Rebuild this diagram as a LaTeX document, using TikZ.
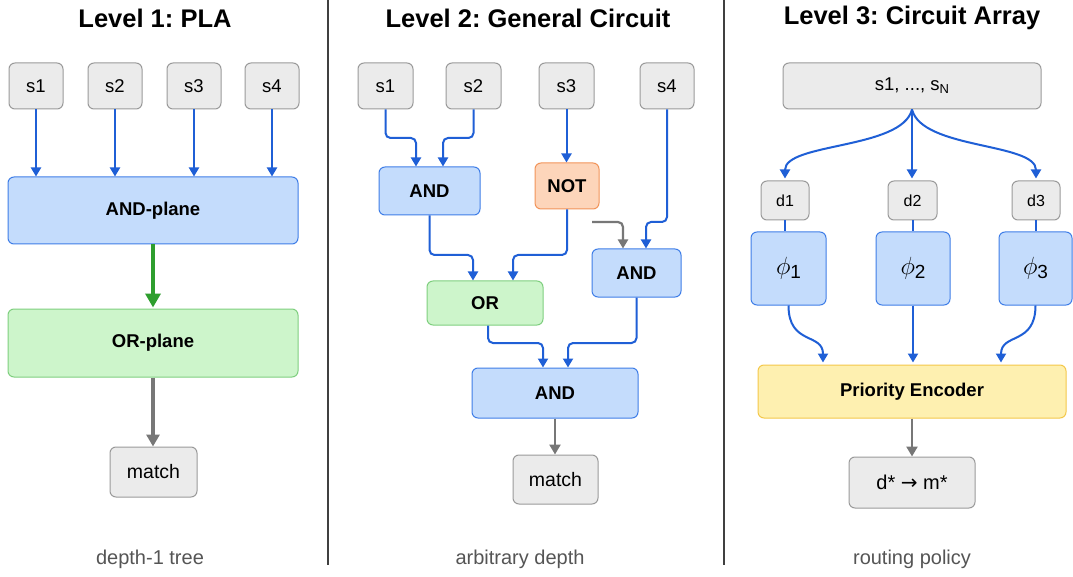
\documentclass[tikz,border=0pt]{standalone}
\usepackage{fontspec}
\setmainfont{Liberation Sans}
\newfontfamily\symfont{DejaVu Sans}
\usetikzlibrary{arrows.meta}
\frenchspacing
\definecolor{gfill}{HTML}{EBEBEB}
\definecolor{gdraw}{HTML}{9A9A9A}
\definecolor{bfill}{HTML}{C4DCFC}
\definecolor{bdraw}{HTML}{3F7EE8}
\definecolor{grfill}{HTML}{CDF5CB}
\definecolor{grdraw}{HTML}{7FCF7F}
\definecolor{ofill}{HTML}{FDD5BA}
\definecolor{odraw}{HTML}{F2945A}
\definecolor{yfill}{HTML}{FEF0B0}
\definecolor{ydraw}{HTML}{F4C84A}
\definecolor{barc}{HTML}{1F5FD6}
\definecolor{grarc}{HTML}{2E9E2E}
\definecolor{gyarc}{HTML}{777777}
\definecolor{captxt}{HTML}{555555}
\newcommand{\phisub}[1]{$\phi$\raisebox{-4pt}{\fontsize{19}{20}\selectfont #1}}
\tikzset{
  box/.style={rounded corners=6pt, line width=1pt, inner sep=0pt, align=center},
  gbox/.style={box, fill=gfill, draw=gdraw, font=\fontsize{18.5}{20}\selectfont},
  bbox/.style={box, fill=bfill, draw=bdraw, font=\bfseries\fontsize{18.5}{20}\selectfont},
  grbox/.style={box, fill=grfill, draw=grdraw, font=\bfseries\fontsize{18.5}{20}\selectfont},
  obox/.style={box, fill=ofill, draw=odraw, font=\bfseries\fontsize{18.5}{20}\selectfont},
  ybox/.style={box, fill=yfill, draw=ydraw, font=\bfseries\fontsize{18.5}{20}\selectfont},
  ttl/.style={font=\bfseries\fontsize{25.5}{28}\selectfont},
  captext/.style={text=captxt, font=\fontsize{20}{22}\selectfont},
  barrow/.style={draw=barc, line width=2pt, rounded corners=5pt, -{Triangle[length=9pt,width=10pt]}},
  bline/.style={draw=barc, line width=2pt},
  grarrow/.style={draw=grarc, line width=3.5pt, -{Triangle[length=14pt,width=15pt]}},
  gyarrow/.style={draw=gyarc, line width=3.2pt, -{Triangle[length=12pt,width=13pt]}},
  divider/.style={draw=black!75, line width=1.2pt}
}
\begin{document}
\begin{tikzpicture}[x=1pt,y=1pt]
\useasboundingbox[fill=white] (0,0) rectangle (1073,-577);
% dividers
\draw[divider] (328,0) -- (328,-565);
\draw[divider] (724,0) -- (724,-565);
% titles
\node[ttl] (t1) at (155,-18) {Level 1: PLA};
\node[ttl] (t2) at (528,-18) {Level 2: General Circuit};
\node[ttl] (t3) at (912,-18) {Level 3: Circuit Array};
% ---------- Panel 1 ----------
\node[gbox, minimum width=54pt, minimum height=46pt] (p1s1) at (36,-86) {s1};
\node[gbox, minimum width=54pt, minimum height=46pt] (p1s2) at (115,-86) {s2};
\node[gbox, minimum width=54pt, minimum height=46pt] (p1s3) at (194,-86) {s3};
\node[gbox, minimum width=54pt, minimum height=46pt] (p1s4) at (272,-86) {s4};
\node[bbox, minimum width=290pt, minimum height=67pt] (p1and) at (153,-210.5) {AND-plane};
\node[grbox, minimum width=290pt, minimum height=68pt] (p1or) at (153,-343) {OR-plane};
\node[gbox, minimum width=87pt, minimum height=50pt, font=\fontsize{19.5}{21}\selectfont] (p1m) at (153.5,-472) {match};
\foreach \i in {1,2,3,4}{
  \draw[barrow] (p1s\i.south) -- (p1s\i.south |- p1and.north);
}
\draw[grarrow] (p1and.south) -- ([yshift=1pt]p1or.north);
\draw[gyarrow] (p1or.south) -- (p1or.south |- p1m.north);
\node[captext] (c1) at (150,-559) {depth-1 tree};
% ---------- Panel 2 ----------
\node[gbox, minimum width=55pt, minimum height=46pt] (p2s1) at (385.5,-86) {s1};
\node[gbox, minimum width=55pt, minimum height=46pt] (p2s2) at (473.5,-86) {s2};
\node[gbox, minimum width=55pt, minimum height=46pt] (p2s3) at (566.5,-86) {s3};
\node[gbox, minimum width=54pt, minimum height=46pt] (p2s4) at (667,-86) {s4};
\node[bbox, minimum width=101pt, minimum height=48pt] (p2and1) at (429.5,-191) {AND};
\node[obox, minimum width=64pt, minimum height=46pt] (p2not) at (567,-186) {NOT};
\node[bbox, minimum width=89pt, minimum height=48pt] (p2and2) at (636.5,-273) {AND};
\node[grbox, minimum width=116pt, minimum height=44pt] (p2or) at (485,-303) {OR};
\node[bbox, minimum width=166pt, minimum height=50pt] (p2and3) at (555,-393) {AND};
\node[gbox, minimum width=85pt, minimum height=49pt, font=\fontsize{19.5}{21}\selectfont] (p2m) at (555.5,-479.5) {match};
\coordinate (p2in) at (592,-222);
\draw[barrow] (p2s1.south) -- (p2s1.south |- 0,-138) -| ([xshift=-13.5pt]p2and1.north);
\draw[barrow] (p2s2.south) -- (p2s2.south |- 0,-138) -| ([xshift=13.5pt]p2and1.north);
\draw[barrow] (p2s3.south) -- (p2s3.south |- p2not.north);
\draw[barrow] (p2s4.south) -- (p2s4.south |- 0,-222) -| ([xshift=9.5pt]p2and2.north);
\draw[gyarrow, rounded corners=5pt, line width=2.2pt, -{Triangle[length=9pt,width=10pt]}] (p2in) -| ([xshift=-13.5pt]p2and2.north);
\draw[barrow] (p2and1.south) -- (p2and1.south |- 0,-255) -| ([xshift=-12pt]p2or.north);
\draw[barrow] (p2not.south) -- (p2not.south |- 0,-255) -| ([xshift=28pt]p2or.north);
\draw[barrow] ([xshift=3pt]p2or.south) -- ([xshift=3pt]p2or.south |- 0,-343) -| ([xshift=-12pt]p2and3.north);
\draw[barrow] (p2and2.south) -- (p2and2.south |- 0,-343) -| ([xshift=13pt]p2and3.north);
\draw[gyarrow, line width=2.4pt, -{Triangle[length=10pt,width=11pt]}] (p2and3.south) -- (p2and3.south |- p2m.north);
\node[captext] (c2) at (520,-559) {arbitrary depth};
% ---------- Panel 3 ----------
\node[gbox, minimum width=258pt, minimum height=46pt] (p3s) at (912,-86) {s1, ..., s\raisebox{-3pt}{\fontsize{13}{14}\selectfont N}};
\node[gbox, minimum width=48pt, minimum height=39pt, font=\fontsize{16}{18}\selectfont] (d1) at (785,-200.5) {d1};
\node[gbox, minimum width=49pt, minimum height=39pt, font=\fontsize{16}{18}\selectfont] (d2) at (912.5,-200.5) {d2};
\node[gbox, minimum width=48pt, minimum height=39pt, font=\fontsize{16}{18}\selectfont] (d3) at (1036,-200.5) {d3};
\node[bbox, minimum width=75pt, minimum height=73pt, font=\fontsize{25}{26}\selectfont] (ph1) at (788.5,-268.5) {\phisub{1}};
\node[bbox, minimum width=74pt, minimum height=73pt, font=\fontsize{25}{26}\selectfont] (ph2) at (913,-268.5) {\phisub{2}};
\node[bbox, minimum width=73pt, minimum height=73pt, font=\fontsize{25}{26}\selectfont] (ph3) at (1035.5,-268.5) {\phisub{3}};
\node[ybox, minimum width=308pt, minimum height=53pt] (pe) at (912,-391.5) {Priority Encoder};
\node[gbox, minimum width=126pt, minimum height=51pt, font=\fontsize{20}{22}\selectfont] (dm) at (912,-482.5) {d*\ {\symfont\fontsize{20}{22}\selectfont →}\ m*};
\draw[barrow] (p3s.south) .. controls +(-10,-40) and +(0,36) .. ([yshift=2pt]d1.north);
\draw[barrow] (p3s.south) -- ([yshift=2pt]p3s.south |- d2.north);
\draw[barrow] (p3s.south) .. controls +(10,-40) and +(0,36) .. ([yshift=2pt]d3.north);
\draw[bline] (d1.south) -- (d1.south |- ph1.north);
\draw[bline] (d2.south) -- (d2.south |- ph2.north);
\draw[bline] (d3.south) -- (d3.south |- ph3.north);
\draw[barrow] (ph1.south) .. controls +(0,-40) and +(0,30) .. ([xshift=-89pt,yshift=2pt]pe.north);
\draw[barrow] (ph2.south) -- ([yshift=2pt]ph2.south |- pe.north);
\draw[barrow] (ph3.south) .. controls +(0,-40) and +(0,30) .. ([xshift=89pt,yshift=2pt]pe.north);
\draw[gyarrow, line width=2.4pt, -{Triangle[length=10pt,width=11pt]}] (pe.south) -- (dm.north);
\node[captext] (c3) at (912,-559) {routing policy};
\end{tikzpicture}
\end{document}
